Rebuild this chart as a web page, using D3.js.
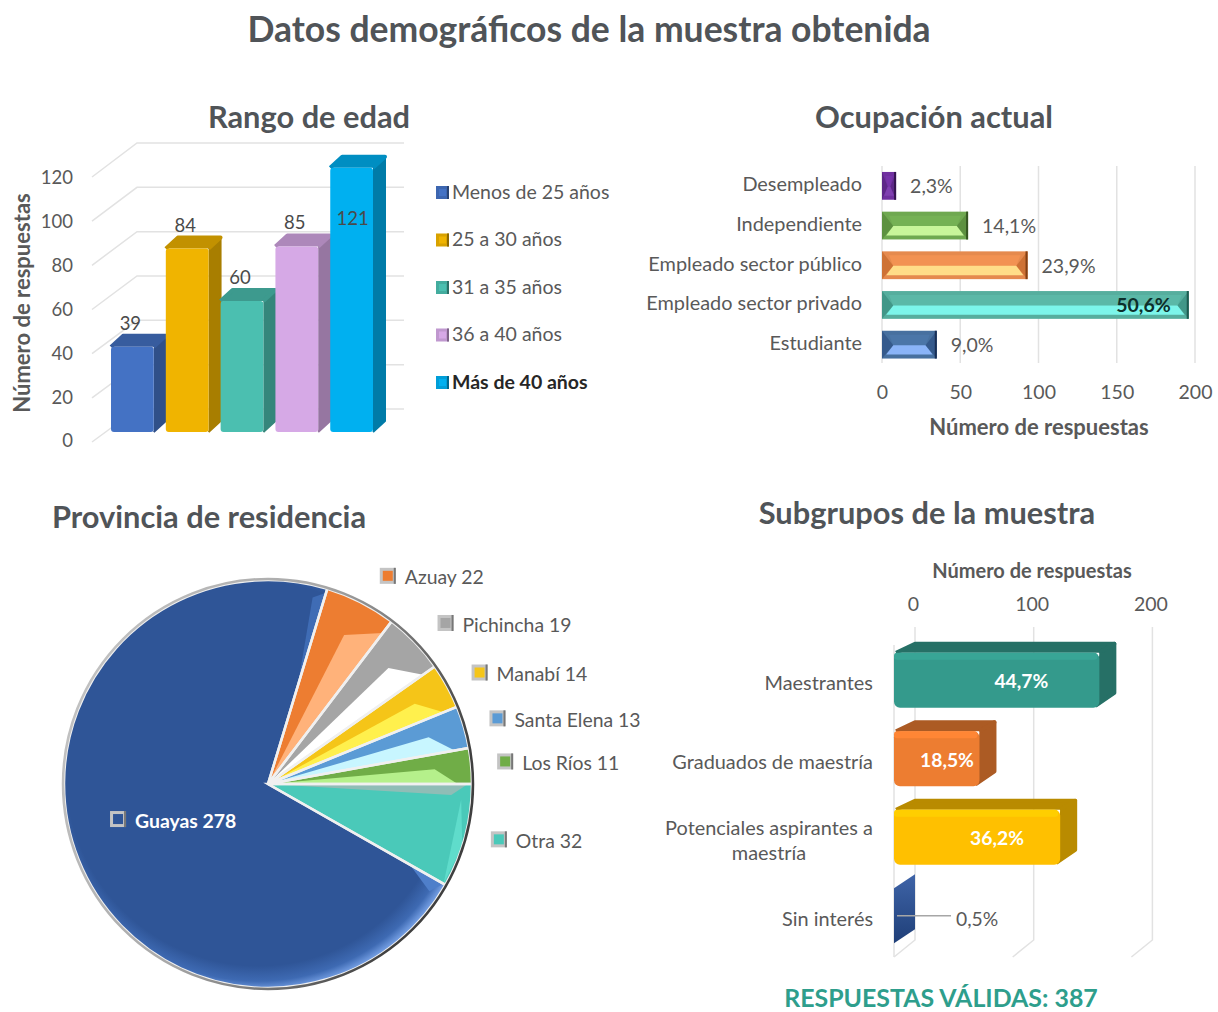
<!DOCTYPE html>
<html>
<head>
<meta charset="utf-8">
<script src="https://d3js.org/d3.v7.min.js"></script>
<style>
body { margin: 0; background: #fff; }
svg { display: block; }
text { font-family: Lato, "Open Sans", sans-serif; fill: #595959; }
</style>
</head>
<body>
<svg id="vis" width="1218" height="1012"></svg>
<script>
// DATA
var edadCats = ["Menos de 25 años", "25 a 30 años", "31 a 35 años", "36 a 40 años", "Más de 40 años"];
var edadVals = [39, 84, 60, 85, 121];
var edadColors = ["#4472c4", "#f0b400", "#4bbfb0", "#d6a9e6", "#00b0f0"];
var edadTicks = [0, 20, 40, 60, 80, 100, 120];

var ocupCats = ["Desempleado", "Independiente", "Empleado sector público", "Empleado sector privado", "Estudiante"];
var ocupVals = [9, 55, 93, 196, 35];
var ocupPct = ["2,3%", "14,1%", "23,9%", "50,6%", "9,0%"];
var ocupTop = ["#7030a0", "#6fa850", "#e58a4e", "#56ae9e", "#47709f"];
var ocupLight = ["#7f3fb0", "#c8f59a", "#ffdd88", "#7cf5ea", "#8ab4f8"];
var ocupDark = ["#4a1d70", "#4c7a30", "#b85a1c", "#2b8072", "#24437a"];
var ocupTicks = [0, 50, 100, 150, 200];

var provCats = ["Otra", "Guayas", "Azuay", "Pichincha", "Manabí", "Santa Elena", "Los Ríos"];
var provVals = [32, 278, 22, 19, 14, 13, 11];
var provColors = ["#4ac9b9", "#2f5597", "#ed7d31", "#a5a5a5", "#f5c518", "#5b9bd5", "#70ad47"];
var provLight = ["#5fdccb", "#3a64ab", "#ffb27a", "#ffffff", "#fff04d", "#c8f6ff", "#b5f08b"];

var subCats = ["Maestrantes", "Graduados de maestría", "Potenciales aspirantes a maestría", "Sin interés"];
var subVals = [173, 72, 140, 2];
var subPct = ["44,7%", "18,5%", "36,2%", "0,5%"];
var subColors = ["#349a8c", "#ed7d31", "#ffc000", "#2f5597"];
var subTicks = [0, 100, 200];

var svg = d3.select("#vis");
var defs = svg.append("defs");
var GRID = "#e2e2e2";

function title(txt, x, y, size, color) {
	return svg.append("text").attr("x", x).attr("y", y)
		.attr("text-anchor", "middle").attr("dominant-baseline", "central")
		.attr("font-size", size).attr("font-weight", 700)
		.style("fill", color || "#505458").text(txt);
}

function poly(g, pts, fill) {
	return g.append("path").attr("d", d3.line()(pts)).attr("fill", fill);
}

// small bevelled square used by the legends
function swatch(g, x, y, s, color) {
	g.append("rect").attr("x", x).attr("y", y).attr("width", s).attr("height", s).attr("fill", d3.color(color).darker(0.3));
	g.append("rect").attr("x", x + 3).attr("y", y + 3).attr("width", s - 6).attr("height", s - 6).attr("fill", color);
	g.append("rect").attr("x", x + s - 2).attr("y", y).attr("width", 2).attr("height", s).attr("fill", d3.color(color).darker(1.5));
}

function swatchPie(g, x, y, s, color) {
	g.append("rect").attr("x", x).attr("y", y).attr("width", s).attr("height", s).attr("fill", "#c4c4c4");
	g.append("rect").attr("x", x + 3).attr("y", y + 3).attr("width", s - 6).attr("height", s - 6).attr("fill", color);
	g.append("rect").attr("x", x + s - 2).attr("y", y).attr("width", 2).attr("height", s).attr("fill", "#777");
}

title("Datos demográficos de la muestra obtenida", 589, 28, 35.5);
title("Rango de edad", 309, 116, 30.8);
title("Ocupación actual", 934, 116, 30.8);
title("Provincia de residencia", 209, 516, 30.8);
title("Subgrupos de la muestra", 927, 512, 30.8);
title("RESPUESTAS VÁLIDAS: 387", 941, 997, 24.9, "#2e9e8c");

// CHART 1 - rango de edad
var g1 = svg.append("g");
var e_yBack = d3.scaleLinear().domain([0, 120]).range([409, 143]);
var e_yFront = d3.scaleLinear().domain([0, 120]).range([442, 177]);
var e_yLabel = d3.scaleLinear().domain([0, 120]).range([441, 178]);
var e_yBar = d3.scaleLinear().domain([0, 120]).range([432, 170]);
var e_x = d3.scaleBand().domain(edadCats).range([111, 373]).paddingInner(0.22);
var e_dx = 12, e_dy = 11;

edadTicks.forEach(function (t) {
	g1.append("path").attr("fill", "none").attr("stroke", GRID).attr("stroke-width", 1.5)
		.attr("d", d3.line()([[92, e_yFront(t)], [137, e_yBack(t)], [404, e_yBack(t)]]));
});

g1.append("g").attr("transform", "translate(73,0)")
	.call(d3.axisLeft(e_yLabel).tickValues(edadTicks).tickSize(0).tickPadding(0).tickFormat(d3.format("d")))
	.call(function (a) {
		a.select(".domain").remove();
		a.selectAll("text").attr("font-size", 18.5).attr("font-family", "Lato").style("fill", "#595959");
	});

svg.append("text").attr("transform", "translate(21,303) rotate(-90)")
	.attr("text-anchor", "middle").attr("dominant-baseline", "central")
	.attr("font-size", 22).attr("font-weight", 700).text("Número de respuestas");

edadCats.forEach(function (c, i) {
	var x0 = e_x(c), x1 = x0 + e_x.bandwidth();
	var yT = e_yBar(edadVals[i]), yB = e_yBar(0);
	var col = d3.color(edadColors[i]);
	var b = g1.append("g").attr("stroke-linejoin", "round");
	poly(b, [[x1, yT], [x1 + e_dx, yT - e_dy], [x1 + e_dx, yB - e_dy], [x1, yB]], col.darker(1)).attr("stroke", col.darker(1)).attr("stroke-width", 2);
	poly(b, [[x0, yT], [x0 + e_dx, yT - e_dy], [x1 + e_dx, yT - e_dy], [x1, yT]], col.darker(0.6)).attr("stroke", col.darker(0.6)).attr("stroke-width", 4);
	b.append("rect").attr("x", x0).attr("y", yT).attr("width", e_x.bandwidth()).attr("height", yB - yT).attr("fill", col).attr("rx", 3);
	// 121 sits inside its own bar
	var inside = edadVals[i] > 100;
	g1.append("text").attr("x", x0 + e_x.bandwidth() / 2 + (inside ? 1 : -2)).attr("y", inside ? yT + 50 : yT - 24)
		.attr("text-anchor", "middle").attr("dominant-baseline", "central")
		.attr("font-size", 18.5).style("fill", "#4a4a4a").text(edadVals[i]);
});

var e_leg = d3.scalePoint().domain(edadCats).range([191, 381]);
edadCats.forEach(function (c, i) {
	swatch(g1, 436, e_leg(c) - 5, 13, edadColors[i]);
	var last = i == edadCats.length - 1;
	g1.append("text").attr("x", 452).attr("y", e_leg(c)).attr("dominant-baseline", "central")
		.attr("font-size", 19.5).attr("font-weight", last ? 700 : 400)
		.style("fill", last ? "#262626" : "#595959").text(c);
});

// CHART 2 - ocupacion
var g2 = svg.append("g");
var o_x = d3.scaleLinear().domain([0, 200]).range([882, 1195]);
var o_y = d3.scaleBand().domain(ocupCats).range([166, 364.5]).paddingInner(0.3).paddingOuter(0.15);

ocupTicks.forEach(function (t) {
	g2.append("line").attr("x1", o_x(t)).attr("x2", o_x(t)).attr("y1", 166).attr("y2", 363)
		.attr("stroke", GRID).attr("stroke-width", 1.5);
});

g2.append("g").attr("transform", "translate(0,397)")
	.call(d3.axisBottom(o_x).tickValues(ocupTicks).tickSize(0).tickPadding(0))
	.call(function (a) {
		a.select(".domain").remove();
		a.selectAll("text").attr("font-size", 19.5).attr("font-family", "Lato").attr("dy", "0.1em").style("fill", "#595959");
	});

ocupCats.forEach(function (c, i) {
	var x0 = o_x(0), x1 = o_x(ocupVals[i]);
	var y0 = o_y(c), h = o_y.bandwidth(), y1 = y0 + h;
	var ins = Math.min(7, (x1 - x0) / 4), mid = y0 + h * 0.52;
	g2.append("rect").attr("x", x0).attr("y", y0).attr("width", x1 - x0).attr("height", h).attr("fill", ocupTop[i]);
	poly(g2, [[x0 + ins, y0 + 4], [x1 - ins, y0 + 4], [x1 - ins * 1.6, mid], [x0 + ins * 1.6, mid]], d3.color(ocupTop[i]).brighter(0.15));
	poly(g2, [[x0 + ins * 1.6, mid], [x1 - ins * 1.6, mid], [x1 - ins * 0.6, y1 - 4], [x0 + ins * 0.6, y1 - 4]], ocupLight[i]);
	poly(g2, [[x0, y0], [x0 + ins * 1.6, mid], [x0, y1]], ocupDark[i]).attr("opacity", 0.5);
	poly(g2, [[x1, y0], [x1 - ins * 1.6, mid], [x1, y1]], ocupDark[i]).attr("opacity", 0.5);
	g2.append("rect").attr("x", x1 - 2).attr("y", y0).attr("width", 2).attr("height", h).attr("fill", d3.color(ocupDark[i]).darker(1));

	g2.append("text").attr("x", 862).attr("y", y0 + h / 2 - 2.5).attr("text-anchor", "end").attr("dominant-baseline", "central")
		.attr("font-size", 19.9).text(c);
	var inside = ocupVals[i] > 150;
	g2.append("text").attr("x", inside ? x1 - 18 : x1 + 14).attr("y", y0 + h / 2)
		.attr("text-anchor", inside ? "end" : "start").attr("dominant-baseline", "central")
		.attr("font-size", 19.5).attr("font-weight", inside ? 700 : 400)
		.style("fill", inside ? "#0d2f2b" : "#595959").text(ocupPct[i]);
});
g2.append("text").attr("x", 1039).attr("y", 426).attr("text-anchor", "middle").attr("dominant-baseline", "central")
	.attr("font-size", 22).attr("font-weight", 700).text("Número de respuestas");

// CHART 3 - provincia
var g3 = svg.append("g").attr("transform", "translate(268,784)");
var R = 204;
var TAU = Math.PI * 2;
var pie = d3.pie().sort(null).startAngle(Math.PI / 2).endAngle(Math.PI * 2.5);
var arcs = pie(provVals);
var arc = d3.arc().innerRadius(0).outerRadius(R);

function polar(ang, rad) {
	return [Math.sin(ang) * rad, -Math.cos(ang) * rad];
}

var rimGrad = defs.append("linearGradient").attr("id", "rim").attr("x1", "0").attr("x2", "1").attr("y1", "0").attr("y2", "0.4");
rimGrad.append("stop").attr("offset", "0").attr("stop-color", "#c9c9c9");
rimGrad.append("stop").attr("offset", "0.55").attr("stop-color", "#a8a8a8");
rimGrad.append("stop").attr("offset", "1").attr("stop-color", "#3f3f3f");

// focus pushed to the upper left, so that the light rim shows lower right
var guayGrad = defs.append("radialGradient").attr("id", "guay").attr("gradientUnits", "userSpaceOnUse")
	.attr("cx", -10).attr("cy", -10).attr("r", R + 14);
guayGrad.append("stop").attr("offset", "0.88").attr("stop-color", "#2f5597");
guayGrad.append("stop").attr("offset", "0.95").attr("stop-color", "#3e6ab3");
guayGrad.append("stop").attr("offset", "1").attr("stop-color", "#7ca6ea");

arcs.forEach(function (a, i) {
	var big = provVals[i] > 100;
	g3.append("path").attr("d", arc(a)).attr("fill", big ? "url(#guay)" : provColors[i]);
	var span = a.endAngle - a.startAngle;
	if (big) {
		// lighter bevel against the neighbours
		poly(g3, [polar(a.endAngle, R * 0.5), polar(a.endAngle, R * 0.98), polar(a.endAngle - 0.06, R * 0.94)], "#3f6cb5");
		poly(g3, [polar(a.startAngle, R * 0.8), polar(a.startAngle, R * 0.99), polar(a.startAngle + 0.07, R * 0.95)], "#4f7fca");
	} else if (provCats[i] == "Otra") {
		poly(g3, [[0, 0], polar(a.startAngle, R * 0.98), polar(a.startAngle + 0.06, R * 0.9)], "#8fbdb6");
		poly(g3, [polar(a.startAngle + 0.08, R * 0.95), polar(a.endAngle, R * 0.99), polar(a.startAngle + span * 0.6, R)], provLight[i]);
	} else {
		// bright wedge, tapering before the rim, base colour stays above it
		poly(g3, [[0, 0], polar(a.startAngle + span * 0.5, R * 0.82), polar(a.endAngle, R * 0.93)], provLight[i]);
	}
});
// separators, drawn after the fills so they stay on top
arcs.forEach(function (a) {
	g3.append("path").attr("d", arc(a)).attr("fill", "none").attr("stroke", "#f0f0f0").attr("stroke-width", 2.5);
});
g3.append("circle").attr("r", R + 1).attr("fill", "none").attr("stroke", "url(#rim)").attr("stroke-width", 2.5);

arcs.forEach(function (a, i) {
	// angles past the top of the pie run over 2pi
	var mid = ((a.startAngle + a.endAngle) / 2) % TAU;
	var big = provVals[i] > 100;
	var ang = big ? mid + 0.15 : mid + (Math.PI / 2 - mid) * 0.05, rad = big ? 154 : 238;
	var p = polar(ang, rad);
	if (!big) p[1] -= 2.5;
	swatchPie(g3, p[0] - 8, p[1] - 8, 16, provColors[i]);
	g3.append("text").attr("x", p[0] + 17).attr("y", p[1] + 1).attr("dominant-baseline", "central")
		.attr("font-size", 19.4).attr("font-weight", big ? 700 : 400)
		.style("fill", big ? "#ffffff" : "#595959").text(provCats[i] + " " + provVals[i]);
});

// CHART 4 - subgrupos
var g4 = svg.append("g");
var s_x = d3.scaleLinear().domain([0, 200]).range([894, 1131.4]);
var s_y = d3.scaleBand().domain(subCats).range([641, 955]).paddingInner(0.3).paddingOuter(0.15);
var wall_dx = 21, wall_dy = 17, bar_dx = 17, bar_dy = 11;

var sinGrad = defs.append("linearGradient").attr("id", "sin").attr("x1", "0").attr("x2", "0").attr("y1", "0").attr("y2", "1");
sinGrad.append("stop").attr("offset", "0").attr("stop-color", "#3f64a8");
sinGrad.append("stop").attr("offset", "1").attr("stop-color", "#1f3f78");

subTicks.forEach(function (t) {
	var xf = s_x(t);
	g4.append("path").attr("fill", "none").attr("stroke", GRID).attr("stroke-width", 1.5)
		.attr("d", d3.line()([[xf + wall_dx, 627], [xf + wall_dx, 940], [xf, 940 + wall_dy]]));
});
g4.append("line").attr("x1", s_x(0)).attr("x2", s_x(0)).attr("y1", 645).attr("y2", 957).attr("stroke", GRID).attr("stroke-width", 1.5);

g4.append("g").attr("transform", "translate(19,609)")
	.call(d3.axisBottom(s_x).tickValues(subTicks).tickSize(0).tickPadding(0))
	.call(function (a) {
		a.select(".domain").remove();
		a.selectAll("text").attr("font-size", 19.5).attr("font-family", "Lato").attr("dy", "0.1em").style("fill", "#595959");
	});
g4.append("text").attr("x", 1032).attr("y", 570).attr("text-anchor", "middle").attr("dominant-baseline", "central")
	.attr("font-size", 20).attr("font-weight", 700).text("Número de respuestas");

subCats.forEach(function (c, i) {
	var x0 = s_x(0), x1 = s_x(subVals[i]);
	var y0 = s_y(c), h = s_y.bandwidth(), y1 = y0 + h;
	var col = d3.color(subColors[i]);
	var dark = col.darker(0.9);
	var b = g4.append("g").attr("stroke-linejoin", "round");
	if (subVals[i] > 10) {
		poly(b, [[x0 + 2, y0], [x0 + bar_dx + 4, y0 - bar_dy + 2], [x1 + bar_dx - 2, y0 - bar_dy + 2], [x1, y0]], dark).attr("stroke", dark).attr("stroke-width", 4);
		poly(b, [[x1, y0], [x1 + bar_dx - 2, y0 - bar_dy + 2], [x1 + bar_dx - 2, y1 - bar_dy - 4], [x1 - 4, y1 - 2]], dark).attr("stroke", dark).attr("stroke-width", 4);
		b.append("rect").attr("x", x0).attr("y", y0).attr("width", x1 - x0).attr("height", h).attr("fill", col).attr("rx", 6);
		b.append("rect").attr("x", x0).attr("y", y0).attr("width", x1 - x0 - 2).attr("height", 7).attr("fill", col.brighter(0.2)).attr("rx", 3);
		g4.append("text").attr("x", s_x(subVals[i] * 0.62)).attr("y", y0 + h / 2 + 0.5)
			.attr("text-anchor", "middle").attr("dominant-baseline", "central")
			.attr("font-size", 19.3).attr("font-weight", 700).style("fill", "#fff").text(subPct[i]);
	} else {
		// too thin for its label: leader line and label outside
		poly(b, [[x0, y0], [x0 + wall_dx, y0 - 14], [x0 + wall_dx, y1 - 14], [x0, y1]], "url(#sin)");
		g4.append("line").attr("x1", x0 + 3).attr("x2", x0 + 57).attr("y1", y0 + h / 2).attr("y2", y0 + h / 2).attr("stroke", "#a6a6a6").attr("stroke-width", 1.3);
		g4.append("text").attr("x", x0 + 62).attr("y", y0 + h / 2 + 3).attr("dominant-baseline", "central")
			.attr("font-size", 19.3).text(subPct[i]);
	}
	// the long label wraps in two centred lines
	var cy = y0 + h / 2;
	if (c.length > 25) {
		var lab = g4.append("text").attr("text-anchor", "middle").attr("font-size", 19.9).attr("dominant-baseline", "central");
		lab.append("tspan").attr("x", 769).attr("y", cy - 10).text("Potenciales aspirantes a");
		lab.append("tspan").attr("x", 769).attr("y", cy + 15).text("maestría");
	} else {
		g4.append("text").attr("x", 873).attr("y", cy + 2).attr("text-anchor", "end").attr("dominant-baseline", "central")
			.attr("font-size", 19.9).text(c);
	}
});
</script>
</body>
</html>
